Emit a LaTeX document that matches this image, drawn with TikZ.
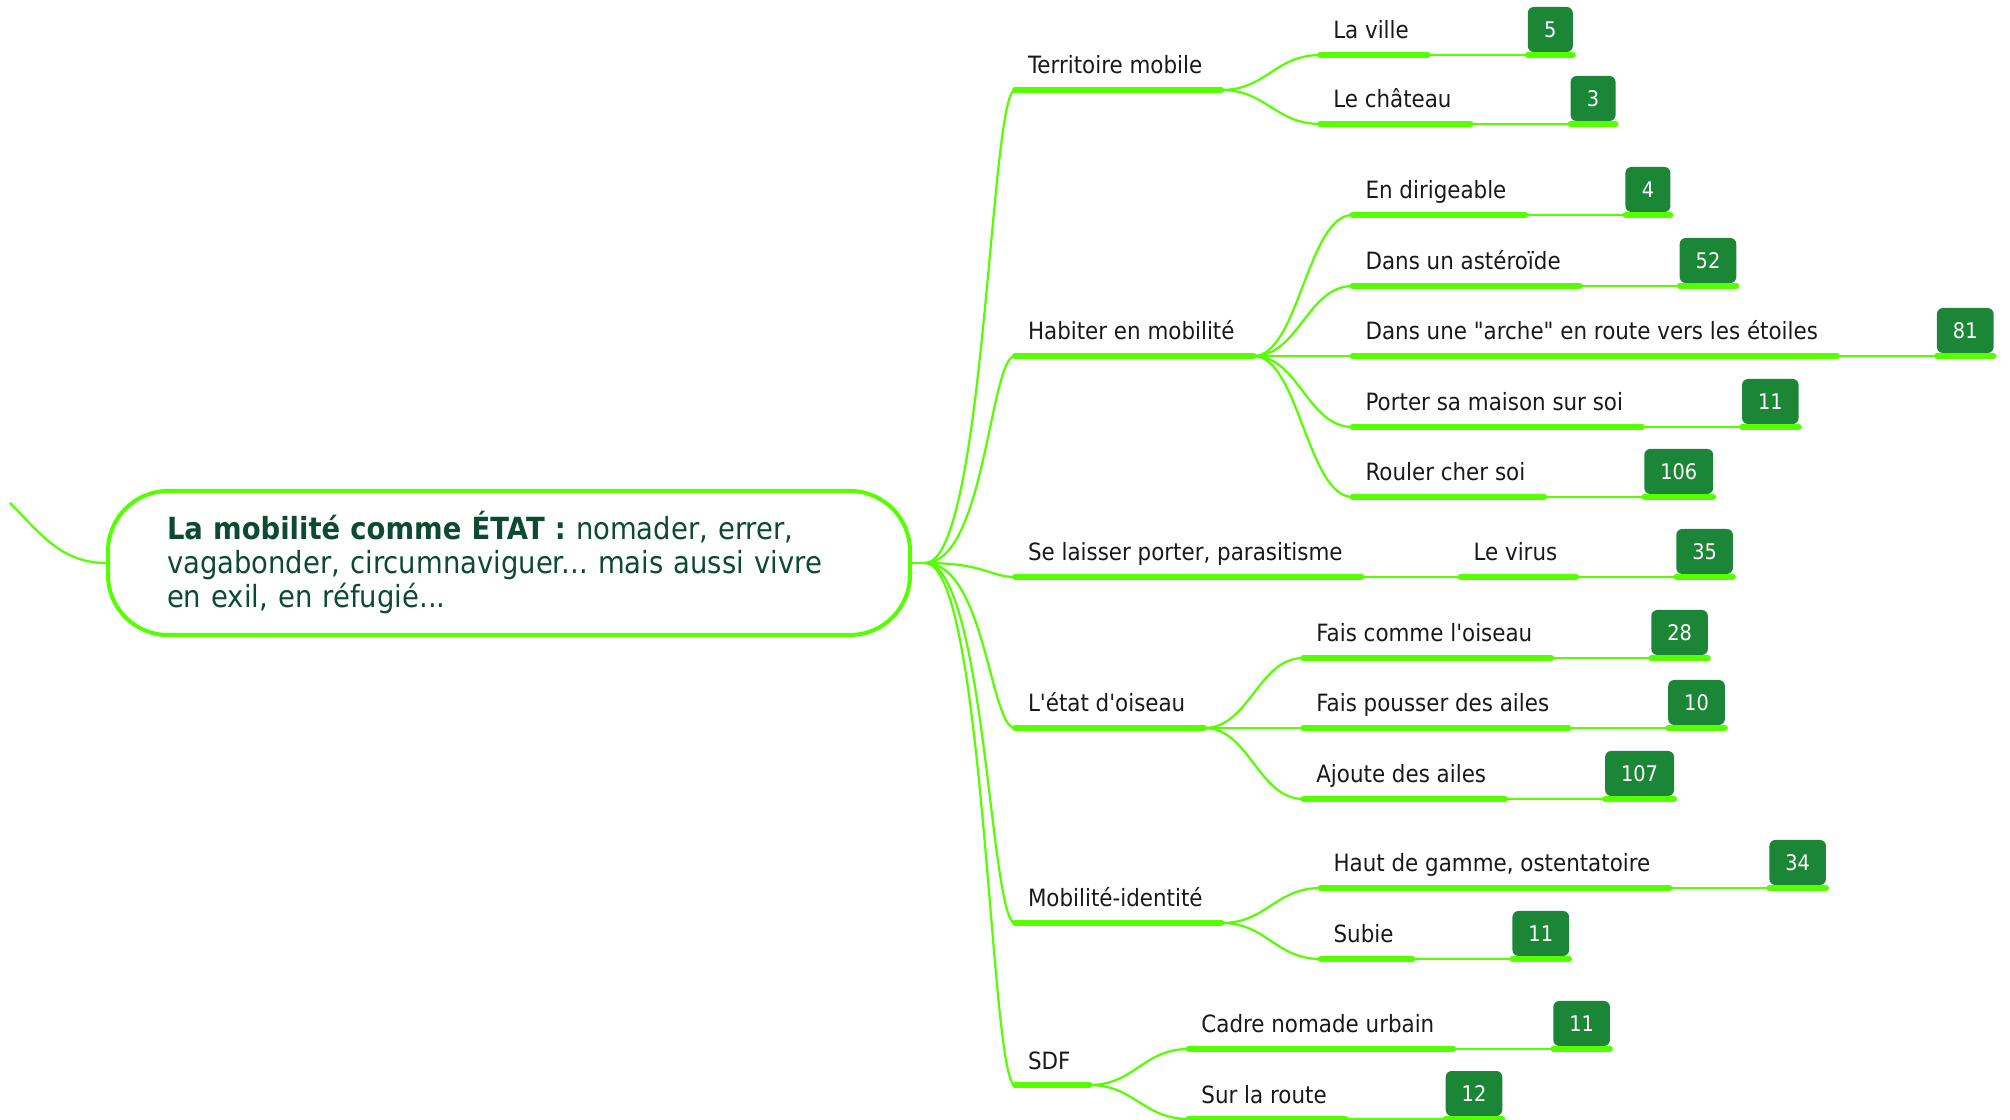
\documentclass[tikz,border=0pt]{standalone}
\usepackage{fontspec}
\newfontfamily\mapfont{DejaVu Sans}[FakeStretch=0.9]
\usetikzlibrary{positioning}
\definecolor{branchgreen}{HTML}{55FF00}
\definecolor{badgegreen}{HTML}{1B8736}
\definecolor{titlegreen}{HTML}{0C4B30}
\newcommand{\topicfont}{\mapfont\fontsize{23.8}{28}\selectfont}
\newcommand{\badgefont}{\mapfont\fontsize{21.5}{26}\selectfont}
\newcommand{\centerfont}{\mapfont\fontsize{30.5}{34}\selectfont\frenchspacing}

\begin{document}
\begin{tikzpicture}[x=1pt,y=1pt,
  topic/.style={anchor=south west,font=\topicfont,text=black!90,text depth=0pt,inner xsep=13pt,inner ysep=16pt,outer sep=0pt},
  badge/.style={anchor=south west,fill=badgegreen,text=white,font=\badgefont,rounded corners=6pt,minimum height=45pt,minimum width=45pt,inner xsep=16pt,inner ysep=0pt,outer xsep=0pt,outer ysep=3pt},
  bar/.style={draw=branchgreen,line width=6pt,line cap=round},
  link/.style={draw=branchgreen,line width=2.2pt}]
\useasboundingbox (0,0) rectangle (2010,1119);

% central idea
\node[draw=branchgreen,line width=4pt,rounded corners=60pt,minimum width=802pt,minimum height=144pt,
  text width=684pt,align=left,font=\centerfont,text=titlegreen] (ctr) at (509,556)
  {\textbf{La mobilité comme ÉTAT :} nomader, errer,\\vagabonder, circumnaviguer... mais aussi vivre\\en exil, en réfugié...};
\coordinate (src) at (10,616);
\coordinate (hub) at (925,556);

% main branches
\node[topic] (tm) at (1015,1029) {Territoire mobile};
\node[topic] (hm) at (1015,763) {Habiter en mobilité};
\node[topic] (sl) at (1015,542) {Se laisser porter, parasitisme};
\node[topic] (eo) at (1015,391) {L'état d'oiseau};
\node[topic] (mi) at (1015,196) {Mobilité-identité};
\node[topic] (sd) at (1015,34) {SDF};

% sub branches
\node[topic] (lv) at ([shift={(105,35)}]tm.south east) {La ville};
\node[topic] (lc) at ([shift={(105,-34)}]tm.south east) {Le château};
\node[topic] (ed) at ([shift={(105,141)}]hm.south east) {En dirigeable};
\node[topic] (da) at ([shift={(105,70)}]hm.south east) {Dans un astéroïde};
\node[topic] (dr) at ([shift={(105,0)}]hm.south east) {Dans une "arche" en route vers les étoiles};
\node[topic] (ps) at ([shift={(105,-71)}]hm.south east) {Porter sa maison sur soi};
\node[topic] (rc) at ([shift={(105,-141)}]hm.south east) {Rouler cher soi};
\node[topic] (vi) at ([shift={(105,0)}]sl.south east) {Le virus};
\node[topic] (fo) at ([shift={(105,70)}]eo.south east) {Fais comme l'oiseau};
\node[topic] (fp) at ([shift={(105,0)}]eo.south east) {Fais pousser des ailes};
\node[topic] (aa) at ([shift={(105,-71)}]eo.south east) {Ajoute des ailes};
\node[topic] (hg) at ([shift={(105,35)}]mi.south east) {Haut de gamme, ostentatoire};
\node[topic] (su) at ([shift={(105,-36)}]mi.south east) {Subie};
\node[topic] (cn) at ([shift={(105,36)}]sd.south east) {Cadre nomade urbain};
\node[topic] (sr) at ([shift={(105,-34)}]sd.south east) {Sur la route};

% connectors
\draw[link] (src) .. controls +(30,-30) and +(-45,0) .. (ctr.west);
\draw[link] (ctr.east) -- (hub);
\foreach \n in {tm,hm,sl,eo,mi,sd}
  \draw[link] (hub) .. controls +(60,0) and +(-25,0) .. (\n.south west);
\foreach \p/\c in {tm/lv,tm/lc,hm/ed,hm/da,hm/dr,hm/ps,hm/rc,sl/vi,eo/fo,eo/fp,eo/aa,mi/hg,mi/su,sd/cn,sd/sr}
  \draw[link] ([xshift=6pt]\p.south east) .. controls +(45,0) and +(-45,0) .. (\c.south west);
\foreach \n in {tm,hm,sl,eo,mi,sd,lv,lc,ed,da,dr,ps,rc,vi,fo,fp,aa,hg,su,cn,sr}
  \draw[bar] (\n.south west) -- ([xshift=6pt]\n.south east);

% counters
\foreach \leaf/\num in {lv/5,lc/3,ed/4,da/52,dr/81,ps/11,rc/106,vi/35,fo/28,fp/10,aa/107,hg/34,su/11,cn/11,sr/12}{
  \node[badge] (n\leaf) at ([xshift=106pt]\leaf.south east) {\num};
  \draw[link] ([xshift=6pt]\leaf.south east) -- (n\leaf.south west);
  \draw[bar] (n\leaf.south west) -- (n\leaf.south east);
}
\end{tikzpicture}
\end{document}
